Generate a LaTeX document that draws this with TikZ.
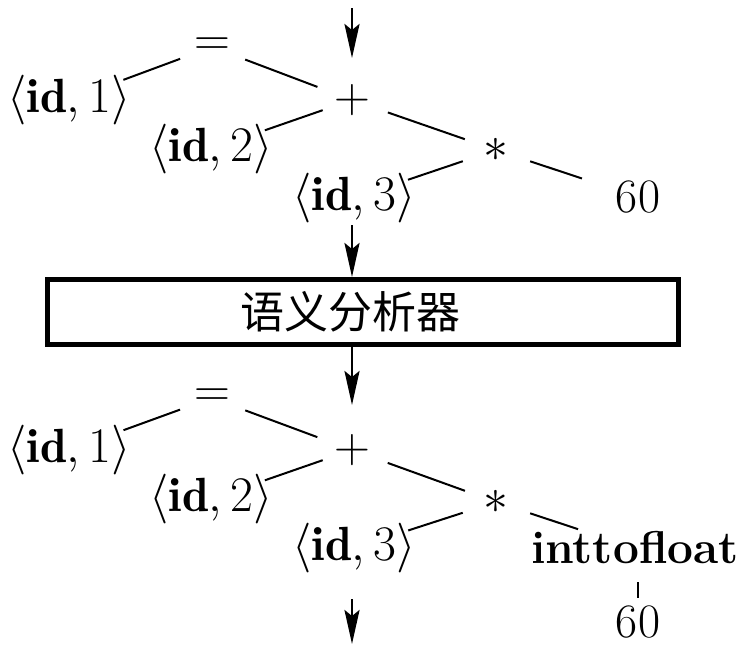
\documentclass[tikz,border=0pt]{standalone}
\usepackage{fontspec}
\newfontfamily\cjkfont{Noto Sans CJK SC}
\usetikzlibrary{arrows.meta}
\begin{document}
\begin{tikzpicture}[x=0.5pt,y=-0.5pt,
  lbl/.style={inner sep=0pt, font=\fontsize{24}{28}\selectfont},
  edge/.style={line width=1pt},
  flow/.style={line width=1.4pt, -{Stealth[length=17pt,width=7.5pt,inset=3pt]}},
  stagebox/.style={draw, line width=2.5pt, minimum width=315.5pt, minimum height=32.5pt,
    inner sep=0pt, font=\cjkfont\fontsize{22}{26}\selectfont}]
\useasboundingbox (0,0) rectangle (742,644);

% ---------- upper tree ----------
\node[lbl] (eqA)    at (212,47)  {$=$};
\node[lbl] (idA1)   at (69,100)  {$\langle\mathbf{id},1\rangle$};
\node[lbl] (plusA)  at (352,100) {$+$};
\node[lbl] (idA2)   at (211,149) {$\langle\mathbf{id},2\rangle$};
\node[lbl] (timesA) at (496,150) {$\ast$};
\node[lbl] (idA3)   at (354,198) {$\langle\mathbf{id},3\rangle$};
\node[lbl] (sixA)   at (638,197) {60};

\draw[edge, shorten <=17pt,   shorten >=29pt]   (eqA.center) -- (idA1.center);
\draw[edge, shorten <=17.75pt,shorten >=18.5pt] (eqA.center) -- (plusA.center);
\draw[edge, shorten <=15.5pt, shorten >=28.5pt] (plusA.center) -- (idA2.center);
\draw[edge, shorten <=19pt,   shorten >=16.5pt] (plusA.center) -- (timesA.center);
\draw[edge, shorten <=17.5pt, shorten >=28.5pt] (timesA.center) -- (idA3.center);
\draw[edge, shorten <=18pt,   shorten >=29.5pt] (timesA.center) -- (sixA.center);

% ---------- box ----------
\node[stagebox] (sema) at (363,312) {\hspace*{-13pt}语义分析器};

% ---------- lower tree ----------
\node[lbl] (eqB)    at (212,398) {$=$};
\node[lbl] (idB1)   at (69,450)  {$\langle\mathbf{id},1\rangle$};
\node[lbl] (plusB)  at (352,450) {$+$};
\node[lbl] (idB2)   at (211,499) {$\langle\mathbf{id},2\rangle$};
\node[lbl] (timesB) at (496,502) {$\ast$};
\node[lbl] (idB3)   at (354,548) {$\langle\mathbf{id},3\rangle$};
\node[lbl, font=\fontsize{23}{27}\selectfont] (convB) at (635,548) {\textbf{inttofloat}};
\node[lbl] (sixB)   at (638,622) {60};

\draw[edge, shorten <=17pt,   shorten >=29pt]   (eqB.center) -- (idB1.center);
\draw[edge, shorten <=17.75pt,shorten >=18.5pt] (eqB.center) -- (plusB.center);
\draw[edge, shorten <=15.5pt, shorten >=28.5pt] (plusB.center) -- (idB2.center);
\draw[edge, shorten <=19pt,   shorten >=16.5pt] (plusB.center) -- (timesB.center);
\draw[edge, shorten <=17.5pt, shorten >=28.5pt] (timesB.center) -- (idB3.center);
\draw[edge, shorten <=18pt,   shorten >=30pt] (timesB.center) -- (convB.center);
\draw[line width=0.7pt, shorten <=17pt, shorten >=12pt] (convB.center -| sixB) -- (sixB.center);

% ---------- flow arrows ----------
\coordinate (inA)  at (352,8);
\coordinate (inAt) at (352,58);
\coordinate (outA) at (352,225);
\coordinate (inBt) at (352,405);
\coordinate (outB) at (352,599);
\coordinate (outBt) at (352,644);
\draw[flow] (inA) -- (inAt);
\draw[flow] (outA) -- (sema.north -| outA);
\draw[flow] (sema.south -| outA) -- (inBt);
\draw[flow] (outB) -- (outBt);
\end{tikzpicture}
\end{document}
